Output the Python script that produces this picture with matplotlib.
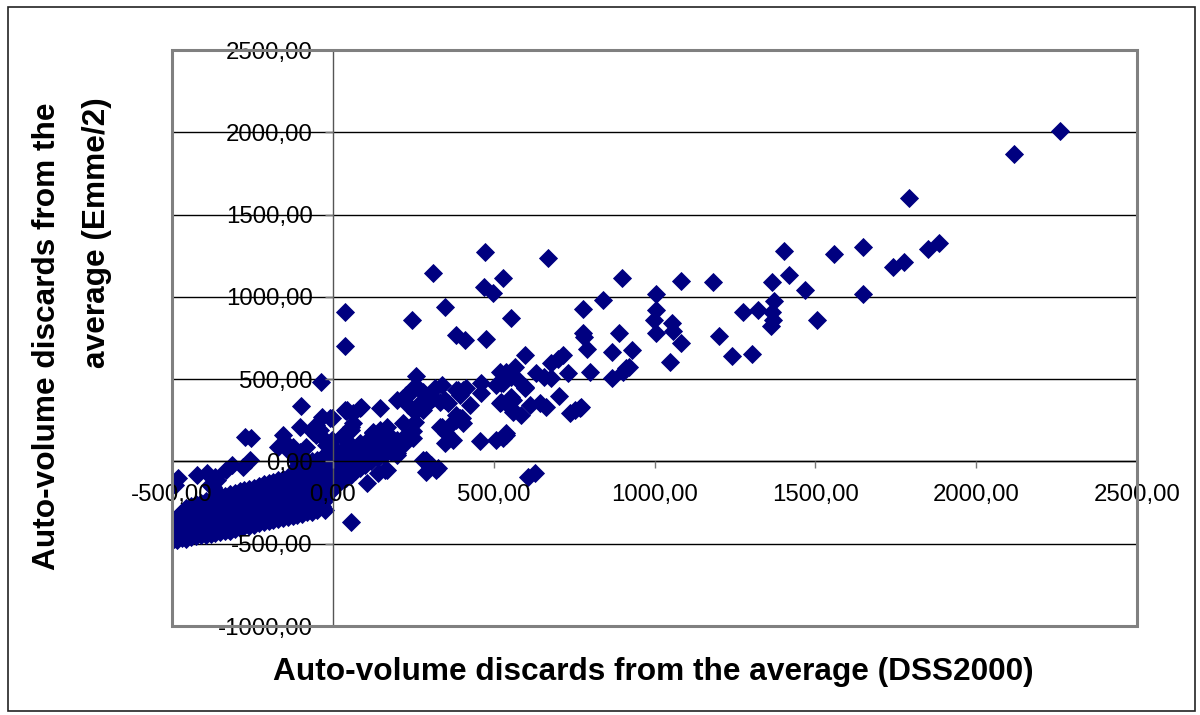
import matplotlib
matplotlib.use("Agg")
import matplotlib.pyplot as plt
from matplotlib.patches import Rectangle

# ---------------- data ----------------
x_ticks = [-500, 0, 500, 1000, 1500, 2000, 2500]
y_ticks = [-1000, -500, 0, 500, 1000, 1500, 2000, 2500]

x_title = "Auto-volume discards from the average (DSS2000)"
y_title_1 = "Auto-volume discards from the"
y_title_2 = "average (Emme/2)"

# isolated / sparse points: (DSS2000, Emme/2)
sparse_points = [
    (2261, 2010), (2119, 1870), (1791, 1603), (1649, 1305), (1743, 1183), (1776, 1214),
    (1849, 1291), (1885, 1326), (1649, 1018), (1404, 1279), (1557, 1259), (1083, 1097),
    (1183, 1089), (1366, 1093), (1419, 1133), (1467, 1042), (1005, 1018), (1005, 920),
    (997, 860), (1055, 840), (1059, 793), (1005, 779), (1083, 718), (1200, 762),
    (1274, 910), (1321, 920), (1373, 975), (1366, 910), (1367, 860), (1362, 823),
    (1505, 860), (1240, 643), (1302, 651), (1047, 606),
    (900, 1117), (839, 981), (779, 926), (777, 779), (780, 758), (889, 779), (790, 683),
    (869, 667), (930, 675), (800, 542), (869, 509), (912, 566), (922, 576), (901, 546),
    (772, 329), (596, 647), (715, 647), (700, 621), (679, 597), (731, 536), (633, 536),
    (658, 515), (679, 509), (539, 546), (565, 576), (555, 515), (576, 495), (529, 475),
    (524, 363), (596, 445), (703, 400), (560, 374), (555, 323), (586, 282), (612, 343),
    (643, 354), (664, 333), (736, 293), (752, 313), (767, 323), (539, 161), (529, 141),
    (607, -92), (630, -72),
    (472, 1271), (669, 1238), (312, 1143), (529, 1117), (469, 1062), (498, 1022),
    (37, 906), (350, 940), (246, 858), (555, 874), (37, 702), (384, 768), (410, 738),
    (477, 744), (258, 521), (462, 475), (519, 546), (508, 465), (524, 475), (596, 455),
    (519, 354), (462, 414), (425, 343), (389, 434), (405, 434), (338, 465), (317, 445),
    (358, 354), (348, 374), (384, 282), (400, 262), (374, 242), (332, 211), (348, 111),
    (374, 131), (456, 126), (508, 131), (539, 171), (301, 400), (280, 424), (249, 445),
    (229, 404), (234, 343), (255, 303), (198, 374), (146, 323), (84, 323), (37, 313),
    (-4, 262), (58, 211), (218, 232), (255, 242), (125, 171), (146, 131), (167, 90),
    (198, 40), (280, 9), (301, -32), (322, -52), (167, -52), (141, -72), (32, 161),
    (53, 90), (79, 9),
    (-36, 485), (265, 445), (239, 414), (218, 384), (275, 363), (296, 354), (280, 313),
    (312, 384), (332, 363), (394, 404), (415, 445), (384, 434), (555, 394), (560, 303),
    (89, 333), (43, 313), (-9, 262), (63, 232), (58, 191), (338, 211), (353, 171),
    (394, 262), (405, 232), (384, 252), (125, 151), (146, 191), (167, 211), (182, 151),
    (161, 111), (141, 80), (125, 29), (146, 50), (198, 50), (84, 100), (79, 50), (53, 29),
    (22, -11), (1, 60), (-20, 100), (-30, 29), (291, 9), (306, -21), (327, -41),
    (291, -62), (105, -132), (161, -52), (-25, -295), (58, -366), (-35, 272), (-40, 191),
    (-100, 339), (40, 309), (63, 293), (-102, 211), (-51, 222), (-4, 131), (27, 151),
    (58, 100), (84, 111), (110, 80), (125, 181), (125, 131), (94, 29), (115, 9),
    (-273, 151), (-253, 141), (-149, 120), (-170, 90), (-82, 90), (-102, 60), (-61, 181),
    (-51, 161), (-134, 60), (-113, 9), (-258, 9), (-279, -32), (-315, -21), (-331, -52),
    (-392, -72), (-423, -82), (-480, -102), (-491, -143), (-372, -153), (-356, -193),
    (-154, 161), (-123, 90), (-25, 131), (-366, -92), (-382, -143), (-361, -112),
]

# dense band near the origin: DSS2000 value -> Emme/2 values
band_points = {
    -495: [-470, -440, -400],
    -485: [-475, -445, -415, -380, -340],
    -470: [-465, -435, -405, -375, -345, -310],
    -455: [-470, -440, -410, -380, -350, -315, -285],
    -440: [-460, -430, -400, -370, -340, -305, -270],
    -425: [-455, -425, -395, -365, -335, -300, -260],
    -410: [-450, -420, -390, -360, -330, -295, -250],
    -395: [-445, -415, -385, -355, -320, -285, -240],
    -380: [-440, -410, -380, -350, -315, -280, -235],
    -365: [-435, -405, -375, -345, -310, -270, -225],
    -350: [-430, -400, -370, -340, -305, -265, -215],
    -335: [-425, -395, -365, -335, -300, -260, -210],
    -320: [-420, -390, -360, -330, -295, -250, -200],
    -305: [-410, -380, -350, -320, -285, -245, -190],
    -290: [-405, -375, -345, -315, -280, -240, -180],
    -275: [-395, -365, -335, -305, -270, -230, -175],
    -260: [-390, -360, -330, -300, -265, -225, -165],
    -245: [-385, -355, -325, -295, -260, -215, -160],
    -230: [-375, -345, -315, -285, -250, -210, -150],
    -215: [-370, -340, -310, -280, -245, -200, -140],
    -200: [-360, -330, -300, -270, -235, -195, -130],
    -185: [-355, -325, -295, -265, -230, -185, -125],
    -170: [-350, -320, -290, -260, -225, -180, -115],
    -155: [-345, -315, -285, -255, -220, -170, -105],
    -140: [-340, -310, -280, -250, -215, -165, -95],
    -125: [-330, -300, -270, -240, -205, -155, -85],
    -110: [-325, -295, -265, -235, -200, -150, -75, -30],
    -95: [-320, -290, -260, -230, -195, -140, -65, -20],
    -80: [-310, -280, -250, -220, -185, -130, -60, -10],
    -65: [-305, -275, -245, -215, -180, -125, -50, 0],
    -50: [-295, -265, -235, -205, -170, -115, -40, 10],
    -35: [-270, -240, -210, -175, -130, -80, -30, 20],
    -20: [-230, -200, -165, -120, -70, -20, 30],
    -5: [-180, -145, -105, -60, -15, 35],
    10: [-140, -100, -60, -15, 30, 70],
    25: [-120, -80, -35, 10, 55],
    40: [-100, -60, -15, 30, 75],
    55: [-80, -40, 5, 50, 95],
    70: [-60, -20, 25, 70],
    85: [-40, 0, 45, 90],
    100: [-20, 20, 65, 110],
    120: [0, 45, 90],
    140: [20, 65, 110],
    160: [40, 85, 130],
    180: [60, 105],
    200: [85, 130],
    225: [110, 155],
    250: [140, 185],
}

dss2000 = [p[0] for p in sparse_points] + [bx for bx, ys in band_points.items() for _ in ys]
emme2 = [p[1] for p in sparse_points] + [y for ys in band_points.values() for y in ys]

# ---------------- figure ----------------
W, H = 1200, 715
fig = plt.figure(figsize=(W / 100, H / 100), dpi=100)
fig.patch.set_facecolor("white")

# outer chart border
fig.patches.append(Rectangle((8 / W, 1 - 711 / H), (1195 - 8) / W, (711 - 7) / H,
                             transform=fig.transFigure, fill=False,
                             edgecolor="#222222", lw=1.2))

left, right, top, bottom = 172, 1137, 50, 626
ax = fig.add_axes([left / W, 1 - bottom / H, (right - left) / W, (bottom - top) / H])
ax.set_xlim(x_ticks[0], x_ticks[-1])
ax.set_ylim(y_ticks[0], y_ticks[-1])

# gridlines behind the markers
for yv in y_ticks:
    ax.axhline(yv, color="black", lw=1.0, zorder=0.8)

ax.plot(dss2000, emme2, linestyle="none", marker="D", markersize=8.8,
        markerfacecolor="#000080", markeredgecolor="#000080", markeredgewidth=0.6,
        zorder=2)

# axes crossing at zero
for s in ["top", "right"]:
    ax.spines[s].set_visible(False)
ax.spines["left"].set_position(("data", 0))
ax.spines["bottom"].set_position(("data", 0))
ax.spines["left"].set_color("#555555")
ax.spines["bottom"].set_color("black")
ax.spines["left"].set_linewidth(1.0)
ax.spines["bottom"].set_linewidth(1.0)
ax.set_axisbelow(False)

fmt = lambda v: f"{v:.2f}".replace(".", ",")
ax.set_xticks(x_ticks)
ax.set_xticklabels([fmt(v) for v in x_ticks])
ax.set_yticks(y_ticks)
ax.set_yticklabels([fmt(v) for v in y_ticks])
ax.tick_params(axis="y", direction="out", length=6, width=1, color="#777777",
               pad=8.5, labelsize=17.3)
ax.tick_params(axis="x", direction="out", length=5, width=1, color="#777777",
               pad=11, labelsize=17.3)
for lab in ax.get_xticklabels() + ax.get_yticklabels():
    lab.set_fontfamily("Liberation Sans")
    lab.set_zorder(5)

# plot-area border
ax.add_patch(Rectangle((0, 0), 1, 1, transform=ax.transAxes, fill=False,
                       edgecolor="#808080", lw=2.2, zorder=3, clip_on=False))

# titles
fig.text(653.5 / W, 1 - 672 / H, x_title, ha="center", va="center",
         fontsize=22.8, fontweight="bold", family="Liberation Sans")
fig.text(47 / W, 1 - 336 / H, y_title_1, ha="center", va="center", rotation=90,
         fontsize=22.8, fontweight="bold", family="Liberation Sans")
fig.text(97 / W, 1 - 97 / H, y_title_2, ha="center", va="top", rotation=90,
         fontsize=22.8, fontweight="bold", family="Liberation Sans")

fig.savefig("out.png", dpi=100)
